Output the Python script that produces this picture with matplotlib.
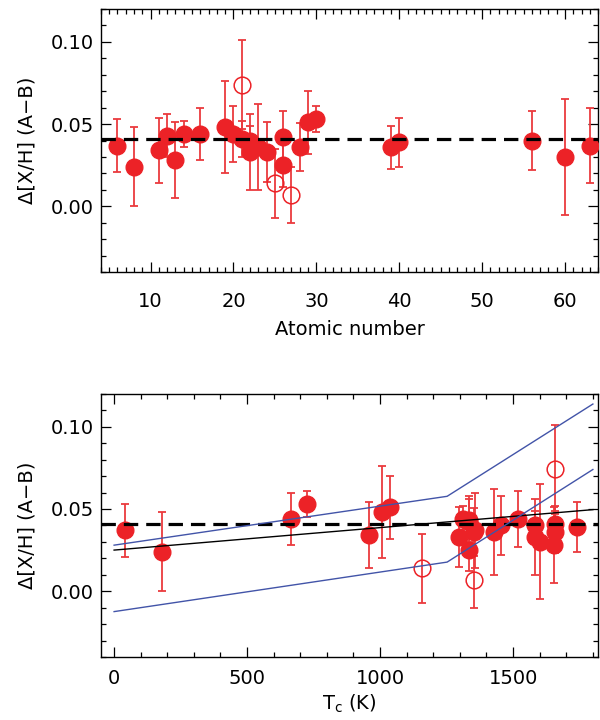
import numpy as np
import matplotlib
matplotlib.use('Agg')
import matplotlib.pyplot as plt
from matplotlib.ticker import MultipleLocator

plt.rcParams['font.family'] = ['DejaVu Sans']
plt.rcParams['mathtext.default'] = 'regular'

# species, atomic number, condensation temperature, Delta[X/H], error, open symbol
species = ['C', 'O', 'Na', 'Mg', 'Al', 'Si', 'S', 'K', 'Ca', 'ScI', 'ScII',
           'TiI', 'TiII', 'V', 'Cr', 'Mn', 'FeI', 'FeII', 'Co', 'Ni', 'Cu',
           'Zn', 'Y', 'Zr', 'Ba', 'Nd', 'Eu']
Z = [6, 8, 11, 12, 13, 14, 16, 19, 20, 21, 21,
     22, 22, 23, 24, 25, 26, 26, 27, 28, 29,
     30, 39, 40, 56, 60, 63]
Tc = [40, 180, 958, 1336, 1653, 1310, 664, 1006, 1517, 1659, 1659,
      1582, 1582, 1429, 1296, 1158, 1334, 1334, 1352, 1353, 1037,
      726, 1659, 1741, 1455, 1602, 1356]
dXH = [0.037, 0.024, 0.034, 0.043, 0.028, 0.044, 0.044, 0.048, 0.044, 0.074, 0.041,
       0.040, 0.033, 0.036, 0.033, 0.014, 0.042, 0.025, 0.007, 0.036, 0.051,
       0.053, 0.036, 0.039, 0.040, 0.030, 0.037]
err = [0.016, 0.024, 0.020, 0.013, 0.023, 0.008, 0.016, 0.028, 0.017, 0.027, 0.011,
       0.009, 0.023, 0.026, 0.018, 0.021, 0.016, 0.013, 0.017, 0.0145, 0.019,
       0.008, 0.013, 0.015, 0.018, 0.035, 0.023]
is_open = [False, False, False, False, False, False, False, False, False, True, False,
           False, False, False, False, True, False, False, True, False, False,
           False, False, False, False, False, False]

mean_offset = 0.041

# linear fit and its band (Tc panel)
fit_x = [0, 1800]
fit_y = [0.025, 0.0496]
band_x = [0, 1252, 1800]
band_hi = [0.028, 0.0577, 0.1138]
band_lo = [-0.0124, 0.0177, 0.0740]

Z = np.array(Z)
Tc = np.array(Tc)
dXH = np.array(dXH)
err = np.array(err)
is_open = np.array(is_open)

red = '#ec2227'
bar_red = '#ea3a3e'

fig = plt.figure(figsize=(6, 7.2), dpi=100)
ax1 = fig.add_axes([0.168, 0.622, 0.829, 0.3655])
ax2 = fig.add_axes([0.168, 0.0875, 0.829, 0.3655])


def draw_points(ax, x):
    ax.errorbar(x, dXH, yerr=err, fmt='none', ecolor=bar_red, elinewidth=1.3,
                capsize=3, capthick=1.3, zorder=2)
    f = ~is_open
    ax.plot(x[f], dXH[f], 'o', color=red, ms=12, mec=red, zorder=3)
    ax.plot(x[is_open], dXH[is_open], 'o', mfc='none', mec=red, ms=12, mew=1.1, zorder=3)
    ax.axhline(mean_offset, color='black', lw=2.3, ls=(0, (4.5, 2.5)), zorder=5)


def style(ax, xpad):
    ax.set_ylim(-0.04, 0.12)
    ax.yaxis.set_major_locator(MultipleLocator(0.05))
    ax.yaxis.set_minor_locator(MultipleLocator(0.01))
    ax.tick_params(which='both', direction='in', top=True, right=True,
                   labelsize=14, width=0.9)
    ax.tick_params(which='major', length=7)
    ax.tick_params(which='minor', length=3.5)
    ax.tick_params(axis='x', pad=xpad)
    ax.tick_params(axis='y', pad=5)
    for s in ax.spines.values():
        s.set_linewidth(1.0)
    ax.set_ylabel('Δ[X/H] (A−B)', fontsize=14, labelpad=10)


draw_points(ax1, Z)
ax1.set_xlim(4, 64)
ax1.xaxis.set_major_locator(MultipleLocator(10))
ax1.xaxis.set_minor_locator(MultipleLocator(1))
style(ax1, 14)
ax1.set_xlabel('Atomic number', fontsize=14, labelpad=7)

draw_points(ax2, Tc)
ax2.plot(fit_x, fit_y, color='black', lw=1.0, zorder=6)
ax2.plot(band_x, band_hi, color='#4254a8', lw=1.0, zorder=6)
ax2.plot(band_x, band_lo, color='#4254a8', lw=1.0, zorder=6)
ax2.set_xlim(-50, 1820)
ax2.xaxis.set_major_locator(MultipleLocator(500))
ax2.xaxis.set_minor_locator(MultipleLocator(100))
style(ax2, 9)
ax2.set_xlabel('T$_c$ (K)', fontsize=14, labelpad=3)

fig.savefig('out.png', dpi=100)
